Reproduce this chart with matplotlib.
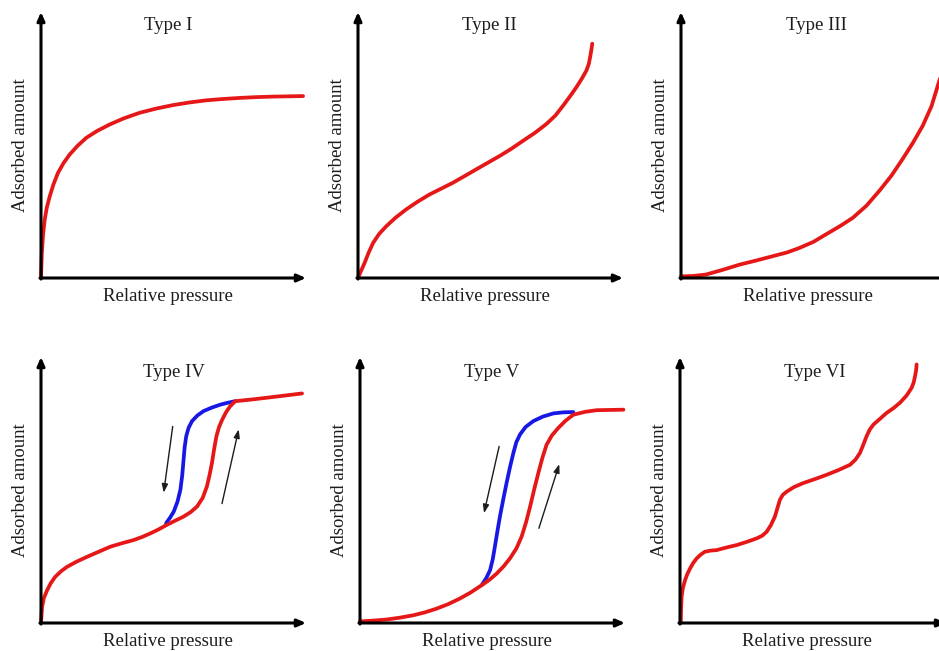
import matplotlib.pyplot as plt

plt.rcParams['font.family'] = ['Liberation Serif', 'DejaVu Serif']

# ---- data (relative pressure 0..1, adsorbed amount 0..1 of axis height) ----
titles = ['Type I', 'Type II', 'Type III', 'Type IV', 'Type V', 'Type VI']
x_label = 'Relative pressure'
y_label = 'Adsorbed amount'

type1_x = [0.0, 0.003, 0.008, 0.014, 0.022, 0.033, 0.047, 0.064, 0.085, 0.108, 0.138,
           0.171, 0.212, 0.259, 0.312, 0.372, 0.435, 0.498, 0.561, 0.624, 0.687, 0.75,
           0.813, 0.876, 0.935, 0.989]
type1_y = [0.0, 0.093, 0.165, 0.219, 0.265, 0.307, 0.352, 0.395, 0.432, 0.464, 0.497,
           0.527, 0.553, 0.577, 0.600, 0.621, 0.637, 0.650, 0.660, 0.668, 0.673, 0.677,
           0.680, 0.682, 0.683, 0.684]

type2_x = [0.0, 0.012, 0.025, 0.04, 0.057, 0.08, 0.107, 0.142, 0.182, 0.225, 0.27, 0.314,
           0.358, 0.402, 0.447, 0.491, 0.535, 0.579, 0.623, 0.668, 0.711, 0.745, 0.774,
           0.800, 0.824, 0.845, 0.862, 0.871, 0.877, 0.881, 0.884]
type2_y = [0.0, 0.028, 0.057, 0.095, 0.132, 0.166, 0.195, 0.227, 0.258, 0.287, 0.314, 0.336,
           0.358, 0.383, 0.409, 0.434, 0.459, 0.486, 0.516, 0.546, 0.579, 0.611, 0.648,
           0.683, 0.717, 0.750, 0.780, 0.805, 0.836, 0.860, 0.881]

type3_x = [0.0, 0.05, 0.094, 0.155, 0.22, 0.285, 0.346, 0.40, 0.447, 0.50, 0.547, 0.60,
           0.648, 0.70, 0.748, 0.795, 0.836, 0.875, 0.912, 0.945, 0.969, 0.99]
type3_y = [0.006, 0.008, 0.013, 0.030, 0.050, 0.066, 0.082, 0.096, 0.113, 0.136, 0.164,
           0.195, 0.226, 0.272, 0.327, 0.386, 0.447, 0.508, 0.572, 0.645, 0.723, 0.790]

type4_ads_x = [0.0, 0.004, 0.011, 0.023, 0.037, 0.054, 0.075, 0.098, 0.135, 0.174, 0.218,
               0.262, 0.306, 0.35, 0.383, 0.413, 0.444, 0.475, 0.507, 0.538, 0.565, 0.589,
               0.610, 0.626, 0.636, 0.645, 0.653, 0.662, 0.672, 0.684, 0.698, 0.714, 0.733,
               0.793, 0.853, 0.92, 0.985]
type4_ads_y = [0.0, 0.06, 0.094, 0.123, 0.150, 0.174, 0.194, 0.211, 0.231, 0.249, 0.268,
               0.287, 0.300, 0.312, 0.324, 0.337, 0.352, 0.369, 0.385, 0.40, 0.417, 0.438,
               0.470, 0.513, 0.556, 0.601, 0.652, 0.702, 0.737, 0.765, 0.792, 0.815, 0.834,
               0.840, 0.847, 0.855, 0.863]
type4_des_x = [0.472, 0.487, 0.501, 0.515, 0.526, 0.533, 0.538, 0.542, 0.548, 0.557, 0.57,
               0.59, 0.614, 0.645, 0.677, 0.705, 0.733]
type4_des_y = [0.375, 0.396, 0.419, 0.456, 0.501, 0.556, 0.614, 0.660, 0.702, 0.734, 0.759,
               0.780, 0.797, 0.810, 0.821, 0.828, 0.834]
type4_arrow_down = [(0.497, 0.739), (0.463, 0.49)]
type4_arrow_up = [(0.683, 0.449), (0.746, 0.728)]

type5_ads_x = [0.0, 0.05, 0.1, 0.15, 0.201, 0.245, 0.289, 0.333, 0.377, 0.418, 0.459,
               0.488, 0.516, 0.542, 0.566, 0.59, 0.61, 0.627, 0.642, 0.657, 0.673, 0.688,
               0.704, 0.724, 0.748, 0.775, 0.805, 0.85, 0.893, 0.944, 0.994]
type5_ads_y = [0.006, 0.009, 0.013, 0.020, 0.029, 0.040, 0.054, 0.071, 0.092, 0.115, 0.142,
               0.162, 0.186, 0.213, 0.243, 0.280, 0.325, 0.380, 0.438, 0.501, 0.564, 0.620,
               0.670, 0.705, 0.733, 0.760, 0.783, 0.794, 0.800, 0.801, 0.802]
type5_des_x = [0.459, 0.476, 0.491, 0.501, 0.509, 0.518, 0.528, 0.540, 0.553, 0.566, 0.579,
               0.590, 0.604, 0.625, 0.654, 0.69, 0.730, 0.767, 0.805]
type5_des_y = [0.142, 0.168, 0.199, 0.240, 0.287, 0.342, 0.400, 0.462, 0.526, 0.586, 0.640,
               0.680, 0.709, 0.737, 0.759, 0.776, 0.788, 0.792, 0.793]
type5_arrow_down = [(0.525, 0.664), (0.468, 0.413)]
type5_arrow_up = [(0.675, 0.356), (0.752, 0.597)]

type6_x = [0.003, 0.004, 0.006, 0.011, 0.019, 0.028, 0.038, 0.05, 0.063, 0.078, 0.094,
           0.114, 0.138, 0.176, 0.214, 0.252, 0.289, 0.310, 0.327, 0.343, 0.358, 0.368,
           0.377, 0.388, 0.403, 0.430, 0.465, 0.509, 0.553, 0.598, 0.642, 0.662, 0.679,
           0.692, 0.704, 0.716, 0.73, 0.755, 0.78, 0.806, 0.83, 0.855, 0.874, 0.882,
           0.887, 0.891, 0.893]
type6_y = [0.0, 0.05, 0.098, 0.132, 0.161, 0.185, 0.205, 0.226, 0.243, 0.257, 0.268,
           0.272, 0.274, 0.284, 0.293, 0.305, 0.318, 0.328, 0.343, 0.368, 0.40, 0.433,
           0.463, 0.482, 0.494, 0.511, 0.526, 0.541, 0.557, 0.575, 0.595, 0.614, 0.639,
           0.671, 0.702, 0.727, 0.746, 0.768, 0.79, 0.808, 0.828, 0.855, 0.884, 0.905,
           0.928, 0.950, 0.972]

# ---- layout (pixels of a 939x651 canvas) ----
W, H = 939, 651
origins = [(41, 278), (358, 278), (681, 278), (41, 623), (360, 623), (680, 623)]
panel_w, panel_h = 265, 266
x_axis_len = [1.0, 1.0, 1.05, 1.0, 1.0, 1.004]
title_pos = [(0.479, 0.951), (0.497, 0.951), (0.51, 0.951),
             (0.503, 0.94), (0.498, 0.94), (0.507, 0.94)]

RED = '#e61717'
BLUE = '#1717e6'
TXT = '#1c1c1c'

fig = plt.figure(figsize=(W / 100, H / 100), dpi=100)

axes = []
for (ox, oy) in origins:
    ax = fig.add_axes([ox / W, (H - oy) / H, panel_w / W, panel_h / H])
    ax.set_xlim(0, 1)
    ax.set_ylim(0, 1)
    ax.axis('off')
    axes.append(ax)

head = dict(arrowstyle='-|>,head_length=0.5,head_width=0.22', lw=2.2, color='black',
            shrinkA=0, shrinkB=0)
for i, ax in enumerate(axes):
    ax.annotate('', xy=(x_axis_len[i], 0), xytext=(-0.004, 0), xycoords='axes fraction',
                arrowprops=head, annotation_clip=False)
    ax.annotate('', xy=(0, 1), xytext=(0, -0.004), xycoords='axes fraction',
                arrowprops=head, annotation_clip=False)
    ax.text(title_pos[i][0], title_pos[i][1], titles[i], transform=ax.transAxes,
            ha='center', va='center', fontsize=13.5, color=TXT)
    ax.text(0.48, -0.068, x_label, transform=ax.transAxes, ha='center', va='center',
            fontsize=13.5, color=TXT)
    ax.text(-0.079, 0.5, y_label, transform=ax.transAxes, ha='center', va='center',
            rotation=90, fontsize=13.5, color=TXT)

lw_curve = 2.7
kw = dict(lw=lw_curve, solid_capstyle='round', solid_joinstyle='round', clip_on=False)
axes[0].plot(type1_x, type1_y, color=RED, **kw)
axes[1].plot(type2_x, type2_y, color=RED, **kw)
axes[2].plot(type3_x, type3_y, color=RED, **kw)
axes[3].plot(type4_des_x, type4_des_y, color=BLUE, **kw)
axes[3].plot(type4_ads_x, type4_ads_y, color=RED, **kw)
axes[4].plot(type5_des_x, type5_des_y, color=BLUE, **kw)
axes[4].plot(type5_ads_x, type5_ads_y, color=RED, **kw)
axes[5].plot(type6_x, type6_y, color=RED, **kw)

small = dict(arrowstyle='-|>,head_length=0.5,head_width=0.18', lw=1.0, color=TXT,
             shrinkA=0, shrinkB=0)
for ax, arrs in [(axes[3], [type4_arrow_down, type4_arrow_up]),
                 (axes[4], [type5_arrow_down, type5_arrow_up])]:
    for start, end in arrs:
        ax.annotate('', xy=end, xytext=start, arrowprops=small)

fig.savefig('out.png', dpi=100, facecolor='white')
